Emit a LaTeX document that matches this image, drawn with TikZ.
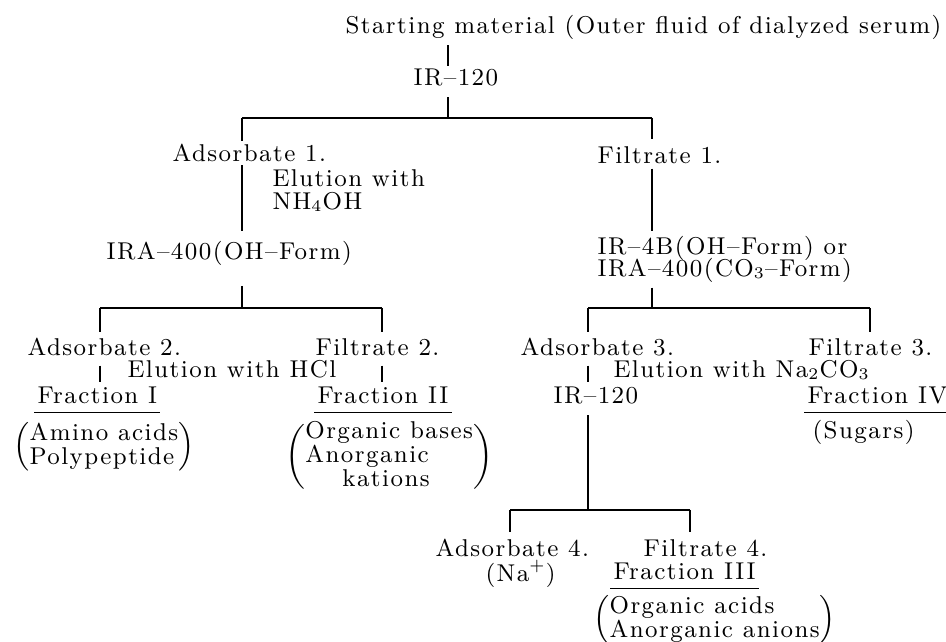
\documentclass[tikz,border=0pt]{standalone}
\usepackage{fontspec}
\setmainfont{Latin Modern Roman}[LetterSpace=6]
\begin{document}
\begin{tikzpicture}[x=0.37037pt,y=-0.37037pt,
  lbl/.style={anchor=west,inner xsep=0pt,inner ysep=0.3pt,text height=6.15pt,text depth=0pt,font=\fontsize{9}{11}\selectfont},
  grp/.style={anchor=west,inner sep=0pt},
  ln/.style={line width=0.42pt},
  ul/.style={line width=0.42pt}]
\useasboundingbox (0,0) rectangle (946,642);

% ---- text nodes ----
\node[lbl] (start) at (345,25) {Starting material (Outer fluid of dialyzed serum)};
\node[lbl] (ir1)   at (413,77) {IR--120};

\node[lbl] (ads1)  at (172,153) {Adsorbate 1.};
\node[lbl] (elu1a) at (272,178) {Elution with};
\node[lbl] (elu1b) at (272,201) {NH$_4$OH};
\node[lbl] (ira1)  at (106,251) {IRA--400(OH--Form)};

\node[lbl] (fil1)  at (597,155) {Filtrate 1.};
\node[lbl] (ir4b)  at (597,246) {IR--4B(OH--Form) or};
\node[lbl] (ira2)  at (597,268) {IRA--400(CO$_3$--Form)};

\node[lbl] (ads2)  at (27,347)  {Adsorbate 2.};
\node[lbl] (fil2)  at (315,347) {Filtrate 2.};
\node[lbl] (elu2)  at (127,369) {Elution with HCl};
\node[lbl] (fr1)   at (37,395)  {Fraction I};
\node[lbl] (fr2)   at (317,395) {Fraction II};

\node[grp,font=\fontsize{9}{8.1}\selectfont] (g1) at (13,447)
  {$\left(\begin{tabular}{@{}l@{}}Amino acids\\Polypeptide\end{tabular}\right)$};
\node[grp,font=\fontsize{9}{8.3}\selectfont] (g2) at (285,457)
  {$\left(\begin{tabular}{@{}l@{}}Organic bases\\Anorganic\\\hspace*{13.7pt}kations\end{tabular}\right)$};

\node[lbl] (ads3)  at (520,347) {Adsorbate 3.};
\node[lbl] (fil3)  at (808,347) {Filtrate 3.};
\node[lbl] (elu3)  at (613,369) {Elution with Na$_2$CO$_3$};
\node[lbl] (ir3)   at (553,395) {IR--120};
\node[lbl] (fr4)   at (807,395) {Fraction IV};
\node[lbl] (sug)   at (812,430) {(Sugars)};

\node[lbl] (ads4)  at (435,548) {Adsorbate 4.};
\node[lbl] (fil4)  at (643,548) {Filtrate 4.};
\node[lbl] (na)    at (485,573) {(Na$^{+}$)};
\node[lbl] (fr3)   at (613,571) {Fraction III};
\node[grp,font=\fontsize{9}{7.4}\selectfont] (g3) at (593,620)
  {$\left(\begin{tabular}{@{}l@{}}Organic acids\\Anorganic anions\end{tabular}\right)$};

% ---- branch points ----
\coordinate (c0)  at (448,118);
\coordinate (h1l) at (242,118);
\coordinate (h1r) at (652,118);
\coordinate (h2l) at (100,308);
\coordinate (h2m) at (242,308);
\coordinate (h2r) at (382,308);
\coordinate (h3l) at (588,308);
\coordinate (h3m) at (652,308);
\coordinate (h3r) at (870,308);
\coordinate (h4l) at (510,510);
\coordinate (h4m) at (588,510);
\coordinate (h4r) at (690,510);

% ---- connectors ----
\draw[ln,shorten <=4pt,shorten >=0.5pt] (start.south -| c0) -- (ir1.north -| c0);
\draw[ln,shorten <=4pt] (ir1.south -| c0) -- (c0);
\draw[ln] (h1l) -- (h1r);
\draw[ln,shorten >=1pt] (h1l) -- (ads1.north -| h1l);
\draw[ln,shorten <=1pt,shorten >=3.7pt] (ads1.south -| h1l) -- (ira1.north -| h1l);
\draw[ln,shorten <=9.3pt] (ira1.south -| h2m) -- (h2m);
\draw[ln] (h2l) -- (h2r);
\draw[ln,shorten >=2pt] (h2l) -- (ads2.north -| h2l);
\draw[ln,shorten >=2pt] (h2r) -- (fil2.north -| h2r);
\draw[ln,shorten <=3.3pt,shorten >=1.1pt] (ads2.south -| h2l) -- (fr1.north -| h2l);
\draw[ln,shorten <=3.3pt,shorten >=1.1pt] (fil2.south -| h2r) -- (fr2.north -| h2r);

\draw[ln,shorten >=2.2pt] (h1r) -- (fil1.north -| h1r);
\draw[ln,shorten <=1.5pt,shorten >=2pt] (fil1.south -| h1r) -- (ir4b.north -| h1r);
\draw[ln,shorten <=3.7pt] (ira2.south -| h3m) -- (h3m);
\draw[ln] (h3l) -- (h3r);
\draw[ln,shorten >=2pt] (h3l) -- (ads3.north -| h3l);
\draw[ln,shorten >=2pt] (h3r) -- (fil3.north -| h3r);
\draw[ln,shorten <=3.3pt,shorten >=1.1pt] (ads3.south -| h3l) -- (ir3.north -| h3l);
\draw[ln,shorten <=4pt] (ir3.south -| h4m) -- (h4m);
\draw[ln] (h4l) -- (h4r);
\draw[ln,shorten >=2.2pt] (h4l) -- (ads4.north -| h4l);
\draw[ln,shorten >=2.2pt] (h4r) -- (fil4.north -| h4r);

% ---- underlines ----
\draw[ul] ([xshift=-1pt,yshift=-2.8pt]fr1.south west) -- ([xshift=1pt,yshift=-2.8pt]fr1.south east);
\draw[ul] ([xshift=-1pt,yshift=-2.8pt]fr2.south west) -- ([xshift=1pt,yshift=-2.8pt]fr2.south east);
\draw[ul] ([xshift=-1pt,yshift=-2.8pt]fr4.south west) -- ([xshift=1pt,yshift=-2.8pt]fr4.south east);
\draw[ul] ([xshift=-1pt,yshift=-2.8pt]fr3.south west) -- ([xshift=1pt,yshift=-2.8pt]fr3.south east);
\end{tikzpicture}
\end{document}
